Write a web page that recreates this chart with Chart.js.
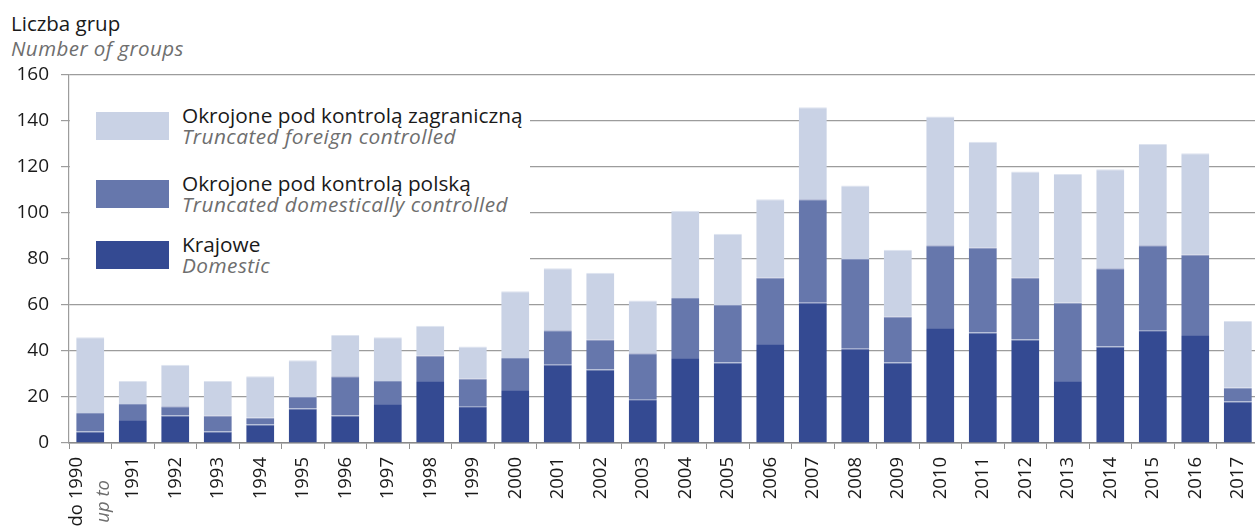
<!doctype html>
<html lang="pl">
<head>
<meta charset="utf-8">
<title>Liczba grup</title>
<script src="https://cdn.jsdelivr.net/npm/chart.js"></script>
<style>
  html, body { margin: 0; padding: 0; background: #fff; overflow: hidden; }
  body { width: 1255px; height: 529px; position: relative; font-family: 'Open Sans', sans-serif; color: #1a1a1a; }
  #wrap { position: absolute; left: 0; top: 0; width: 1268px; height: 529px; }
  .ttl { position: absolute; left: 11px; font-size: 20.5px; line-height: 21px; white-space: nowrap; }
  .en { font-style: italic; color: #6e6e6e; letter-spacing: 0.45px; }
  #legend { position: absolute; left: 70px; top: 97px; width: 460px; height: 186px; background: #fff; }
  .item { position: absolute; left: 26px; height: 28px; }
  .sw { position: absolute; left: 0; top: 0; width: 73px; height: 28px; }
  .txt { position: absolute; left: 86px; top: -7px; font-size: 20.8px; line-height: 21px; white-space: nowrap; }
</style>
</head>
<body>
<div class="ttl" style="top:13px">Liczba grup</div>
<div class="ttl en" style="top:38px">Number of groups</div>

<div id="wrap"><canvas id="chart" width="1268" height="529"></canvas></div>

<div id="legend">
  <div class="item" style="top:15px"><div class="sw" style="background:#c9d2e5"></div>
    <div class="txt">Okrojone pod kontrolą zagraniczną<br><span class="en">Truncated foreign controlled</span></div></div>
  <div class="item" style="top:83px"><div class="sw" style="background:#6677ac"></div>
    <div class="txt">Okrojone pod kontrolą polską<br><span class="en">Truncated domestically controlled</span></div></div>
  <div class="item" style="top:144px"><div class="sw" style="background:#344a92"></div>
    <div class="txt">Krajowe<br><span class="en">Domestic</span></div></div>
</div>

<script>
  const FONT = "'Open Sans', sans-serif";

  const years = ['do 1990', '1991', '1992', '1993', '1994', '1995', '1996', '1997', '1998', '1999',
    '2000', '2001', '2002', '2003', '2004', '2005', '2006', '2007', '2008', '2009',
    '2010', '2011', '2012', '2013', '2014', '2015', '2016', '2017'];
  const firstNote = 'up to';

  // Krajowe / Domestic
  const domestic = [5, 10, 12, 5, 8, 15, 12, 17, 27, 16, 23, 34, 32, 19, 37, 35, 43, 61, 41, 35, 50, 48, 45, 27, 42, 49, 47, 18];
  // Okrojone pod kontrolą polską / Truncated domestically controlled
  const polish = [8, 7, 4, 7, 3, 5, 17, 10, 11, 12, 14, 15, 13, 20, 26, 25, 29, 45, 39, 20, 36, 37, 27, 34, 34, 37, 35, 6];
  // Okrojone pod kontrolą zagraniczną / Truncated foreign controlled
  const foreign = [33, 10, 18, 15, 18, 16, 18, 19, 13, 14, 29, 27, 29, 23, 38, 31, 34, 40, 32, 29, 56, 46, 46, 56, 43, 44, 44, 29];

  const yTicks = [0, 20, 40, 60, 80, 100, 120, 140, 160];

  // first label: two lines, second one italic grey
  const firstLabelPlugin = {
    id: 'firstLabel',
    afterDraw(chart) {
      const sx = chart.scales.x;
      const px = sx.getPixelForTick(0);
      const ctx = chart.ctx;
      ctx.save();
      ctx.textAlign = 'right';
      ctx.textBaseline = 'middle';
      ctx.translate(px - 14, sx.top + 14);
      ctx.rotate(-Math.PI / 2);
      ctx.font = '18.5px ' + FONT;
      ctx.fillStyle = '#1a1a1a';
      ctx.fillText(years[0], 0, 0);
      ctx.restore();
      ctx.save();
      ctx.textAlign = 'right';
      ctx.textBaseline = 'middle';
      ctx.translate(px + 13, sx.top + 37);
      ctx.rotate(-Math.PI / 2);
      ctx.font = 'italic 18.5px ' + FONT;
      ctx.fillStyle = '#6e6e6e';
      ctx.fillText(firstNote, 0, 0);
      ctx.restore();
    }
  };

  new Chart(document.getElementById('chart'), {
    type: 'bar',
    data: {
      labels: years,
      datasets: [
        { label: 'Krajowe', data: domestic, backgroundColor: '#344a92', borderColor: '#5a6ca6', borderWidth: { top: 1 }, borderSkipped: 'bottom' },
        { label: 'Okrojone pod kontrolą polską', data: polish, backgroundColor: '#6677ac', borderColor: '#8896c0', borderWidth: { top: 1 }, borderSkipped: 'bottom' },
        { label: 'Okrojone pod kontrolą zagraniczną', data: foreign, backgroundColor: '#c9d2e5', borderColor: '#dde3ef', borderWidth: { top: 1 }, borderSkipped: 'bottom' }
      ]
    },
    options: {
      responsive: false,
      animation: false,
      barPercentage: 0.66,
      categoryPercentage: 1,
      layout: { padding: { top: 75, left: 0, right: 0, bottom: 0 } },
      plugins: {
        legend: { display: false },
        tooltip: { enabled: false }
      },
      scales: {
        x: {
          stacked: true,
          offset: true,
          grid: { display: true, drawOnChartArea: false, drawTicks: true, tickLength: 6, color: '#909090', offset: true },
          border: { display: true, color: '#8a8a8a', width: 1.5 },
          ticks: {
            autoSkip: false, minRotation: 90, maxRotation: 90, padding: 8,
            color: '#1a1a1a', font: { family: FONT, size: 18.5 },
            callback: (v, i) => i === 0 ? '' : years[i]
          },
          afterFit: s => { s.height = 86; }
        },
        y: {
          stacked: true,
          min: 0,
          max: 160,
          afterBuildTicks: s => { s.ticks = yTicks.map(v => ({ value: v })); },
          grid: { color: '#9c9c9c', lineWidth: 1.2, tickLength: 8 },
          border: { display: true, color: '#9c9c9c', width: 1.2 },
          ticks: { padding: 12, color: '#1a1a1a', font: { family: FONT, size: 19 } },
          afterFit: s => { s.width = 69; }
        }
      }
    },
    plugins: [firstLabelPlugin]
  });
</script>
</body>
</html>
